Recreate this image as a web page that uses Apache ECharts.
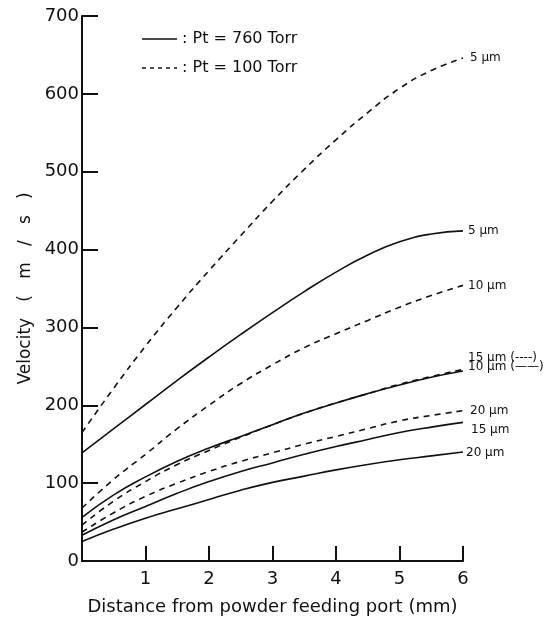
<!DOCTYPE html>
<html>
<head>
<meta charset="utf-8">
<script src="https://cdn.jsdelivr.net/npm/echarts@6/dist/echarts.min.js"></script>
<style>html,body{margin:0;padding:0;background:#fff}#c{width:547px;height:624px}</style>
</head>
<body>
<div id="c"></div>
<script>
// Distance from powder feeding port (mm)
const distance = [0, 0.5, 1, 1.5, 2, 2.5, 3, 3.5, 4, 4.5, 5, 5.5, 6];

// Pt = 760 Torr (solid)
const solid5  = [139, 170, 201, 232, 262, 291, 319, 346, 371, 393, 410, 420, 424];
const solid10 = [56, 85, 108, 128, 145, 160, 175, 190, 203, 215, 226, 236, 244];
const solid15 = [33, 53, 70, 87, 102, 115, 126, 137, 147, 156, 165, 172, 178];
const solid20 = [25, 41, 55, 67, 79, 91, 101, 109, 117, 124, 130, 135, 140];

// Pt = 100 Torr (dashed)
const dashed5  = [165, 222, 276, 326, 373, 418, 462, 503, 541, 576, 607, 630, 646];
const dashed10 = [68, 105, 137, 170, 200, 228, 252, 274, 292, 309, 326, 341, 354];
const dashed15 = [46, 77, 102, 124, 142, 159, 175, 190, 203, 215, 227, 237, 246];
const dashed20 = [37, 62, 83, 100, 115, 128, 139, 150, 160, 170, 180, 187, 193];

const xTicks = [0, 1, 2, 3, 4, 5, 6];
const yTicks = [0, 100, 200, 300, 400, 500, 600, 700];

const legendSolid = ': Pt = 760 Torr';
const legendDashed = ': Pt = 100 Torr';

const curveLabels = [
  {values: dashed5,  dashed: true,  text: '5 µm',        off: [2, 0]},
  {values: solid5,   dashed: false, text: '5 µm',        off: [0, 0]},
  {values: dashed10, dashed: true,  text: '10 µm',       off: [0, 0]},
  {values: dashed15, dashed: true,  text: '15 µm (----)', off: [0, -12]},
  {values: solid10,  dashed: false, text: '10 µm (——)',  off: [0, -4]},
  {values: dashed20, dashed: true,  text: '20 µm',       off: [2, 0]},
  {values: solid15,  dashed: false, text: '15 µm',       off: [3, 7]},
  {values: solid20,  dashed: false, text: '20 µm',       off: [-2, 1]}
];

const FONT = 'DejaVu Sans';
const INK = '#111';

const series = curveLabels.map(c => ({
  type: 'line',
  name: c.dashed ? legendDashed : legendSolid,
  smooth: 0.5,
  symbol: 'none',
  silent: true,
  data: distance.map((d, i) => [d, c.values[i]]),
  lineStyle: {color: INK, width: 1.6, type: c.dashed ? [6, 5] : 'solid'},
  itemStyle: {color: INK},
  endLabel: {
    show: true,
    formatter: c.text,
    distance: 5,
    offset: c.off,
    color: INK,
    fontFamily: FONT,
    fontSize: 12
  }
}));

const solidIcon = 'path://M0,0H35V1.6H0Z';
const dashedIcon = 'path://M0,0H4V1.6H0Z M8,0H12V1.6H8Z M16,0H20V1.6H16Z M24,0H28V1.6H24Z M32,0H35V1.6H32Z';

const chart = echarts.init(document.getElementById('c'), null, {renderer: 'canvas'});
chart.setOption({
  animation: false,
  backgroundColor: '#fff',
  grid: {left: 82, right: 84, top: 16, bottom: 63},
  legend: {
    orient: 'vertical',
    left: 137,
    top: 26,
    itemWidth: 35,
    itemHeight: 1.6,
    itemGap: 13,
    data: [
      {name: legendSolid, icon: solidIcon, itemStyle: {color: INK}},
      {name: legendDashed, icon: dashedIcon, itemStyle: {color: INK}}
    ],
    textStyle: {color: INK, fontFamily: FONT, fontSize: 16, lineHeight: 16},
    selectedMode: false
  },
  xAxis: {
    type: 'value',
    min: xTicks[0],
    max: xTicks[xTicks.length - 1],
    interval: 1,
    name: 'Distance from powder feeding port (mm)',
    nameLocation: 'middle',
    nameGap: 37,
    nameTextStyle: {color: INK, fontFamily: FONT, fontSize: 18},
    axisLine: {lineStyle: {color: INK, width: 2}},
    axisTick: {inside: true, length: 15, lineStyle: {color: INK, width: 2}},
    axisLabel: {
      color: INK, fontFamily: FONT, fontSize: 18, margin: 9,
      formatter: v => (v === 0 ? '' : String(v))
    },
    splitLine: {show: false}
  },
  yAxis: {
    type: 'value',
    min: yTicks[0],
    max: yTicks[yTicks.length - 1],
    interval: 100,
    name: 'Velocity   (   m   /   s   )',
    nameLocation: 'middle',
    nameGap: 36,
    nameTextStyle: {color: INK, fontFamily: FONT, fontSize: 17},
    axisLine: {lineStyle: {color: INK, width: 2}},
    axisTick: {inside: true, length: 16, lineStyle: {color: INK, width: 2}},
    axisLabel: {color: INK, fontFamily: FONT, fontSize: 18, margin: 3},
    splitLine: {show: false}
  },
  series: series
});
</script>
</body>
</html>
